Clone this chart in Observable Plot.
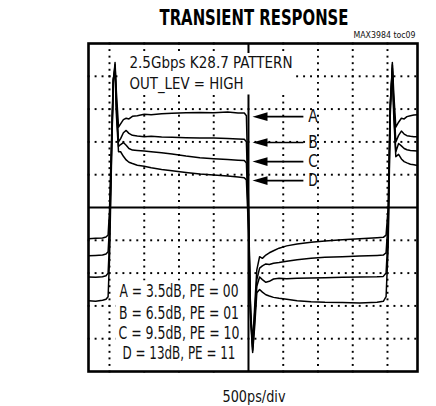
<!DOCTYPE html>
<html><head><meta charset="utf-8">
<script src="https://cdn.jsdelivr.net/npm/d3@7"></script>
<script src="https://cdn.jsdelivr.net/npm/@observablehq/plot@0.6"></script>
<style>
html,body{margin:0;padding:0;background:#fff;}
#chart{width:436px;height:406px;overflow:hidden;}
</style></head><body><div id="chart"></div>
<script>
// time in ns (500ps/div), amplitude in scope divisions
const times = [-2.30,-2.20,-2.10,-2.05,-2.02,-2.00,-1.97,-1.945,-1.92,-1.90,-1.87,-1.84,-1.80,-1.76,-1.72,-1.67,-1.60,-1.50,-1.40,-1.25,-1.10,-0.90,-0.70,-0.50,-0.30,-0.15,-0.06,-0.03,0.00,0.03,0.06,0.09,0.12,0.16,0.20,0.25,0.30,0.36,0.44,0.55,0.70,0.90,1.10,1.35,1.60,1.85,1.94,1.98,2.01,2.04,2.07,2.09,2.12,2.16,2.20,2.24,2.28,2.33,2.38,2.43];
const traceA = [-2.84,-2.86,-2.83,-2.80,-2.72,-1.60,1.50,3.80,4.42,3.50,2.45,2.55,2.68,2.72,2.70,2.78,2.80,2.84,2.83,2.86,2.87,2.89,2.90,2.89,2.91,2.88,2.88,2.80,0.20,-3.40,-4.42,-3.60,-2.60,-2.50,-2.58,-2.66,-2.70,-2.74,-2.77,-2.80,-2.84,-2.87,-2.89,-2.90,-2.91,-2.89,-2.86,-2.72,-1.20,2.80,4.42,3.50,2.45,2.60,2.72,2.70,2.77,2.80,2.82,2.83];
const traceB = [-2.12,-2.13,-2.11,-2.08,-2.00,-1.10,1.70,3.85,4.35,3.20,2.00,2.10,2.28,2.35,2.26,2.20,2.18,2.16,2.17,2.15,2.14,2.13,2.12,2.12,2.10,2.09,2.08,2.00,-0.10,-3.30,-4.35,-3.40,-2.40,-2.12,-2.20,-2.28,-2.25,-2.18,-2.16,-2.17,-2.16,-2.15,-2.14,-2.13,-2.12,-2.11,-2.10,-2.00,-0.80,3.00,4.35,3.20,2.00,2.20,2.33,2.24,2.19,2.17,2.16,2.16];
const traceC = [-1.47,-1.46,-1.45,-1.42,-1.35,-0.60,1.90,3.90,4.25,3.00,1.86,1.92,1.98,1.90,1.80,1.75,1.74,1.72,1.70,1.67,1.63,1.57,1.52,1.49,1.46,1.44,1.43,1.36,-0.40,-3.20,-4.25,-3.20,-2.20,-1.85,-1.78,-1.72,-1.74,-1.70,-1.68,-1.64,-1.59,-1.55,-1.52,-1.50,-1.48,-1.46,-1.45,-1.38,-0.40,3.10,4.25,3.00,1.70,1.95,1.88,1.80,1.76,1.74,1.73,1.72];
const traceD = [-0.95,-0.94,-0.93,-0.90,-0.84,-0.10,2.10,3.95,4.15,2.80,1.70,1.70,1.56,1.45,1.38,1.34,1.29,1.26,1.21,1.16,1.12,1.07,1.02,0.99,0.96,0.93,0.91,0.84,-0.70,-3.10,-4.15,-3.00,-1.90,-1.50,-1.55,-1.45,-1.38,-1.32,-1.24,-1.17,-1.11,-1.06,-1.02,-0.98,-0.95,-0.92,-0.91,-0.84,0.00,3.20,4.15,2.80,1.55,1.62,1.48,1.40,1.36,1.32,1.30,1.28];
const traceNames = ["A","B","C","D"];
const arrowLevels = [2.77,1.98,1.40,0.82];
const arrowTip = 0.058, arrowTail = 0.79, labelTime = 0.928;
const xGridTicks = [-2,-1.5,-1,-0.5,0.5,1,1.5,2];
const yGridTicks = [-4,-3,-2,-1,1,2,3,4];
const titleText = "TRANSIENT RESPONSE";
const figureId = "MAX3984 toc09";
const timeBaseLabel = "500ps/div";
const noteLines = ["2.5Gbps K28.7 PATTERN","OUT_LEV = HIGH"];
const noteLevels = [4.253,3.598];
const noteTime = -1.712;
const legendLines = ["A = 3.5dB, PE = 00","B = 6.5dB, PE = 01","C = 9.5dB, PE = 10","D = 13dB, PE = 11"];
const legendLevels = [-2.74,-3.39,-4.01,-4.63];
const legendTime = -1.0;
const xDomain = [-2.302, 2.432];
const yDomain = [-5, 5];

const FONT = '"Liberation Sans Narrow","Arial Narrow","DejaVu Sans Condensed","Liberation Sans",sans-serif';
const series = [traceA, traceB, traceC, traceD];
const traceData = traceNames.flatMap((n, i) => times.map((t, j) => ({t, v: series[i][j], name: n})));
const gridDots = [
  ...xGridTicks.flatMap(x => d3.range(-25, 26).map(k => ({t: x, v: k / 5}))),
  ...yGridTicks.flatMap(y => d3.range(-23, 25).map(k => ({t: k / 10, v: y})))
];
const leftHead = {draw(ctx) { ctx.moveTo(0, 0); ctx.lineTo(15, -4.3); ctx.lineTo(15, 4.3); ctx.closePath(); }};

const chart = Plot.plot({
  width: 436, height: 406,
  marginLeft: 88, marginRight: 19, marginTop: 43, marginBottom: 35,
  x: {domain: xDomain, axis: null},
  y: {domain: yDomain, axis: null},
  marks: [
    Plot.dot(gridDots, {x: "t", y: "v", r: 1.1, symbol: "square", fill: "#000", stroke: "none"}),
    Plot.ruleY([0], {stroke: "black", strokeWidth: 2}),
    Plot.ruleX([0], {stroke: "black", strokeWidth: 2}),
    Plot.line(traceData, {x: "t", y: "v", z: "name", stroke: "black", strokeWidth: 1.5}),
    Plot.link(arrowLevels, {x1: () => arrowTail, x2: () => arrowTip + 0.15, y1: d => d, y2: d => d, stroke: "black", strokeWidth: 1.6}),
    Plot.dot(arrowLevels, {x: () => arrowTip, y: d => d, symbol: leftHead, fill: "black", stroke: "none"}),
    Plot.text(traceNames, {x: () => labelTime, y: (d, i) => arrowLevels[i], text: d => d, fontSize: 17.5, fontFamily: FONT, fill: "#111"}),
    Plot.text(noteLines, {x: () => noteTime, y: (d, i) => noteLevels[i], text: d => d, textAnchor: "start", lineAnchor: "bottom", fontSize: 16.5, fontFamily: FONT, fill: "#111"}),
    Plot.text(legendLines, {x: () => legendTime, y: (d, i) => legendLevels[i], text: d => d, textAnchor: "middle", lineAnchor: "bottom", fontSize: 18, fontFamily: FONT, fill: "#111"}),
    Plot.text([titleText], {frameAnchor: "top", dx: 1, dy: -18.5, lineAnchor: "bottom", fontSize: 21, fontWeight: "bold", fontFamily: FONT, fill: "#000"}),
    Plot.text([figureId], {frameAnchor: "top-right", textAnchor: "end", dx: -2, dy: -5.5, lineAnchor: "bottom", fontSize: 9, fontFamily: FONT, fill: "#111"}),
    Plot.text([timeBaseLabel], {frameAnchor: "bottom", dx: 1, dy: 30.5, lineAnchor: "bottom", fontSize: 15.5, fontFamily: FONT, fill: "#111"}),
    Plot.frame({stroke: "black", strokeWidth: 2.6})
  ]
});
document.getElementById("chart").append(chart);

// fit text widths to the reference
const textLengths = new Map([[titleText,189],[figureId,62],[timeBaseLabel,63],[noteLines[0],163],[noteLines[1],114],[legendLines[0],119],[legendLines[1],120],[legendLines[2],121],[legendLines[3],113],["A",9.5],["B",9.5],["C",9.5],["D",9.5]]);
chart.querySelectorAll("text").forEach(el => {
  const w = textLengths.get(el.textContent);
  if (w) { el.setAttribute("textLength", w); el.setAttribute("lengthAdjust", "spacingAndGlyphs"); }
});

// white boxes behind the annotation blocks
const origin = chart.getBoundingClientRect();
function unionBox(strings) {
  let x0 = Infinity, y0 = Infinity, x1 = -Infinity, y1 = -Infinity;
  chart.querySelectorAll("text").forEach(el => {
    if (strings.includes(el.textContent)) {
      const b = el.getBoundingClientRect();
      x0 = Math.min(x0, b.left - origin.left); y0 = Math.min(y0, b.top - origin.top);
      x1 = Math.max(x1, b.right - origin.left); y1 = Math.max(y1, b.bottom - origin.top);
    }
  });
  return {x0, y0, x1, y1};
}
const lineG = chart.querySelector('g[aria-label="line"]');
function addBox(b, pad) {
  const r = document.createElementNS("http://www.w3.org/2000/svg", "rect");
  r.setAttribute("x", b.x0 - pad[0]); r.setAttribute("y", b.y0 - pad[1]);
  r.setAttribute("width", b.x1 - b.x0 + pad[0] + pad[2]); r.setAttribute("height", b.y1 - b.y0 + pad[1] + pad[3]);
  r.setAttribute("fill", "white");
  chart.insertBefore(r, lineG);
}
addBox(unionBox(noteLines), [9, 0, 2, 0]);
const lb = unionBox(legendLines);
addBox(lb, [3, 0, 1, 371 - lb.y1]);
</script></body></html>
